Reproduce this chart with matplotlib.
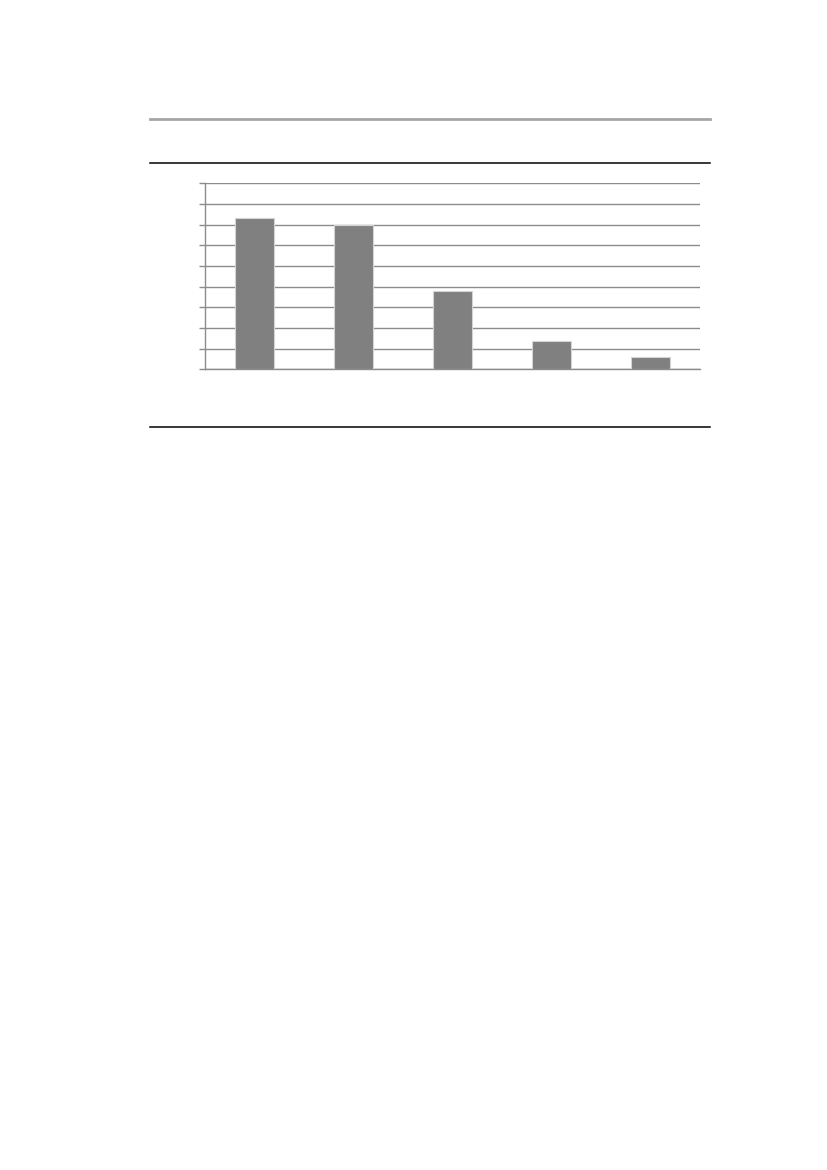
import matplotlib
matplotlib.use("Agg")
import matplotlib.pyplot as plt
from matplotlib.lines import Line2D

# values (gridline step = 10, no labels shown)
categories = ["A", "B", "C", "D", "E"]
values = [73, 70, 38, 13.5, 5.8]
y_ticks = list(range(0, 91, 10))

W, H = 827, 1170
fig = plt.figure(figsize=(W / 100, H / 100), dpi=100)
fig.patch.set_facecolor("white")


def px(x0, y0, x1, y1):
    # figure-pixel box -> fraction coordinates
    return [x0 / W, 1 - y1 / H, (x1 - x0) / W, (y1 - y0) / H]


ax = fig.add_axes(px(205, 183.3, 700, 369.3))

xs = range(len(categories))
ax.bar(xs, values, width=0.4, color="#808080", edgecolor="#d4d4d4",
       linewidth=0.8, zorder=3)

ax.set_xlim(-0.5, len(categories) - 0.5)
ax.set_ylim(0, 90)
ax.set_yticks(y_ticks)
ax.yaxis.grid(True, color="#8c8c8c", linewidth=1.0, zorder=0)
ax.set_axisbelow(True)
ax.set_xticks([])
ax.tick_params(axis="y", length=4, width=1.0, color="#8c8c8c",
               labelleft=False, direction="out")

for side in ["top", "right"]:
    ax.spines[side].set_visible(False)
ax.spines["left"].set_color("#8c8c8c")
ax.spines["left"].set_linewidth(1.0)
ax.spines["bottom"].set_color("#8c8c8c")
ax.spines["bottom"].set_linewidth(1.0)

# table-style rules around the figure
rules = [
    (118.8, "#a6a6a6", 2.0),
    (163.3, "black", 1.1),
    (427.3, "black", 1.1),
]
for y, c, lw in rules:
    fig.add_artist(Line2D([150 / W, 710 / W], [1 - y / H, 1 - y / H],
                          color=c, linewidth=lw, transform=fig.transFigure))

fig.savefig("out.png", dpi=100, facecolor="white")
